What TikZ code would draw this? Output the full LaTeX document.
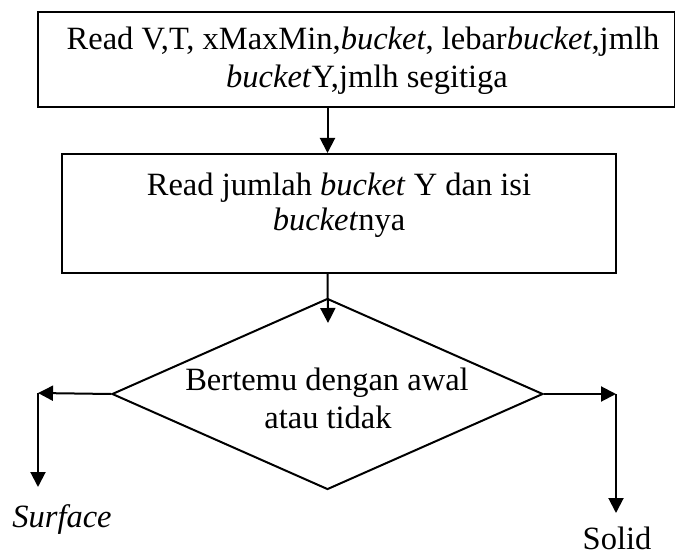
\documentclass[tikz,border=0pt]{standalone}
\usepackage{fontspec}
\setmainfont{Liberation Serif}
\usetikzlibrary{shapes.geometric,arrows.meta}
\begin{document}
\begin{tikzpicture}[x=1pt,y=-1pt,
  box/.style={draw,line width=2pt,inner sep=0pt},
  dia/.style={draw,diamond,line width=2pt,inner sep=0pt},
  txt/.style={anchor=base,inner sep=0pt,font=\fontsize{32.5}{38}\selectfont},
  arr/.style={line width=2pt,-{Triangle[length=15pt,width=15pt]}}]
\useasboundingbox (0,0) rectangle (675,556);
\fill[white] (0,0) rectangle (675,556);
\node[box,minimum width=637pt,minimum height=95pt] (b1) at (356.5,59.5) {};
\node[txt] (t1a) at (363,50) {Read V,T, xMaxMin,\textit{bucket}, lebar\textit{bucket},jmlh};
\node[txt] (t1b) at (367,88) {\textit{bucket}Y,jmlh segitiga};
\node[box,minimum width=554pt,minimum height=119pt] (b2) at (339,213.5) {};
\node[txt] (t2a) at (339,196) {Read jumlah \textit{bucket} Y dan isi};
\node[txt] (t2b) at (339,231) {\textit{bucket}nya};
\node[dia,minimum width=431pt,minimum height=191pt] (d) at (327.5,394) {};
\node[txt] (t3a) at (327,390) {Bertemu dengan awal};
\node[txt] (t3b) at (328,428) {atau tidak};
\coordinate (dtip) at (328,323);
\coordinate (lc) at (38,393);
\coordinate (le) at (38,487);
\coordinate (rc) at (616,394);
\coordinate (re) at (616,513);
\node[txt] (surf) at (62,527) {\textit{Surface}};
\node[txt] (solid) at (617,549) {Solid};
\draw[arr] (b1.south -| d.north) -- (b2.north -| d.north);
\draw[arr] (b2.south -| d.north) -- (dtip);
\draw[arr] (d.west) -- (lc);
\draw[arr] (lc) -- (le);
\draw[arr] (d.east) -- (rc);
\draw[arr] (rc) -- (re);
\end{tikzpicture}
\end{document}
